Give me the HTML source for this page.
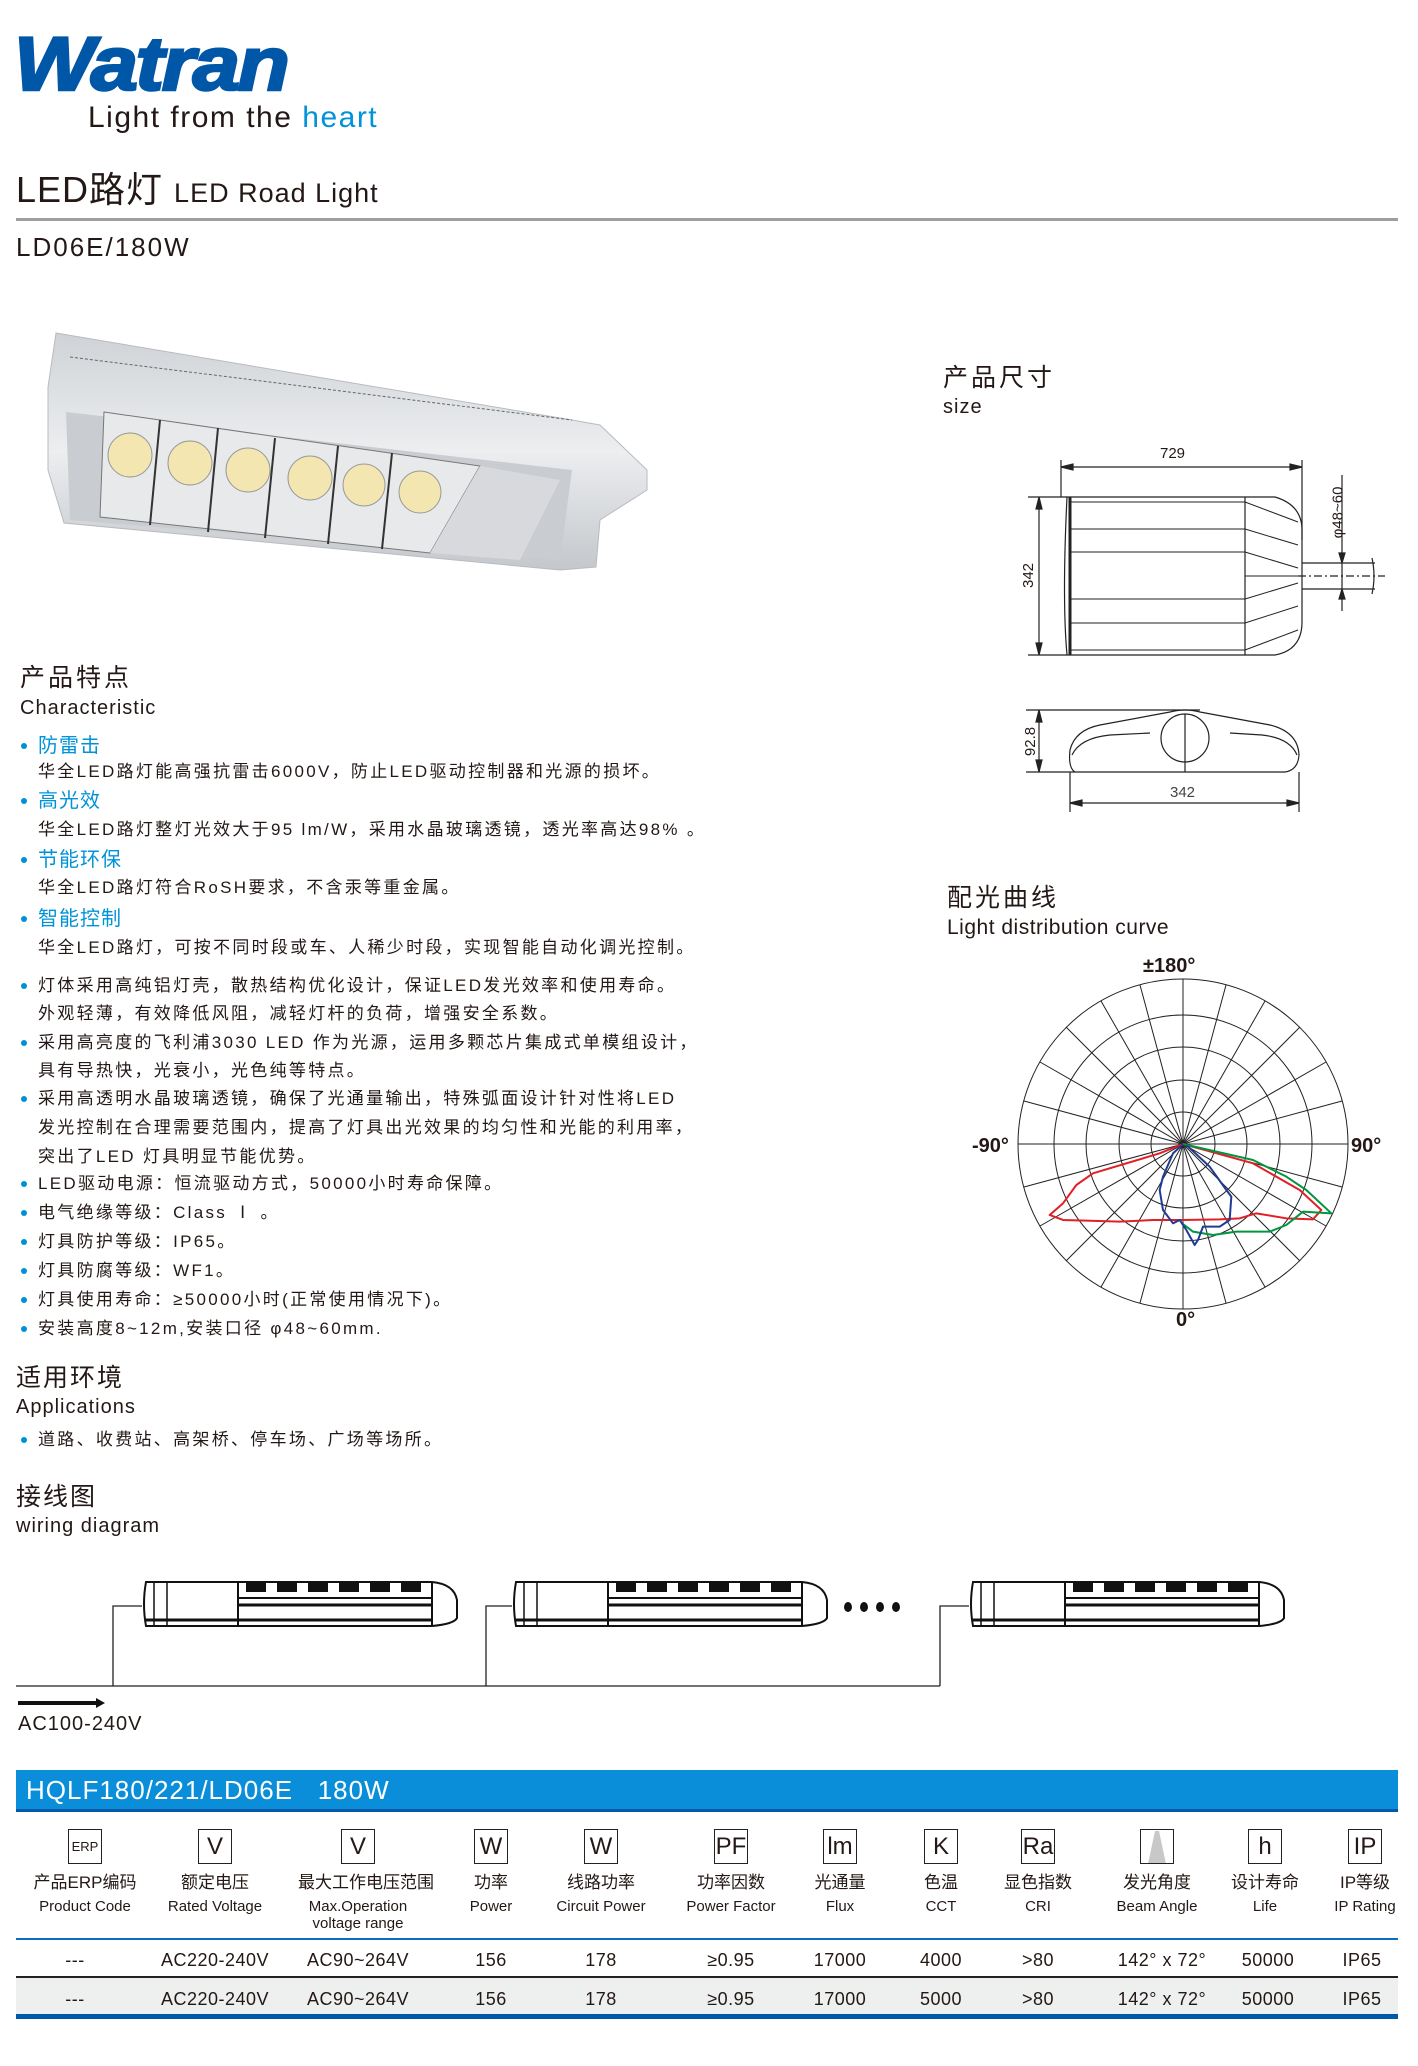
<!DOCTYPE html>
<html><head><meta charset="utf-8">
<style>
*{margin:0;padding:0;box-sizing:border-box}
body{width:1418px;height:2066px;background:#fff;position:relative;overflow:hidden;font-family:"Liberation Sans","Noto Sans CJK SC",sans-serif;color:#231815}
.a{position:absolute;white-space:nowrap;line-height:1}
.b{position:absolute;left:38px;font-size:17px;white-space:nowrap;line-height:1;letter-spacing:2.3px}
.d{position:absolute;left:21px;width:6px;height:6px;border-radius:3px;background:#0090d8}
.h{position:absolute;left:38px;font-size:20px;color:#0093d8;line-height:1;letter-spacing:1px}
.c{position:absolute;text-align:center;width:120px;margin-left:-60px;line-height:1;white-space:nowrap}
.ic{position:absolute;width:34px;height:35px;margin-left:-17px;border:1.5px solid #222;top:1829px;font-size:24px;text-align:center;line-height:33px;font-family:"Liberation Sans Narrow","Liberation Sans",sans-serif}
</style></head><body>

<div class="a" style="left:14px;top:27px;font-size:76px;font-weight:bold;font-style:italic;color:#0057a8;letter-spacing:-2px;-webkit-text-stroke:2.5px #0057a8;transform:scaleX(1.12);transform-origin:left">Watran</div>
<div class="a" style="left:88px;top:103px;font-size:30px;letter-spacing:1.5px">Light from the <span style="color:#0093d8">heart</span></div>

<div class="a" style="left:16px;top:172px;font-size:36px;letter-spacing:1px">LED路灯 <span style="font-size:27px;letter-spacing:1px">LED Road Light</span></div>
<div style="position:absolute;left:16px;top:218px;width:1382px;height:3px;background:#9e9e9e"></div>
<div class="a" style="left:16px;top:234px;font-size:26px;letter-spacing:2px">LD06E/180W</div>

<!-- lamp photo -->
<svg style="position:absolute;left:0;top:0" width="700" height="600">
<defs><linearGradient id="g1" x1="0" y1="0" x2="0" y2="1"><stop offset="0" stop-color="#cfd2d6"/><stop offset=".5" stop-color="#eceef0"/><stop offset="1" stop-color="#c4c7cb"/></linearGradient></defs>
<polygon points="56,333 572,420 600,425 647,470 647,490 600,520 596,567 560,570 64,523 48,470 48,387" fill="url(#g1)" stroke="#b8bbc0"/>
<polygon points="66,412 572,470 560,560 70,520" fill="#c9ccd0"/>
<polygon points="104,412 480,466 430,553 100,517" fill="#e8e9eb" stroke="#777"/>
<line x1="70" y1="357" x2="572" y2="420" stroke="#666" stroke-dasharray="3,2"/>
<g fill="#f3e6b0" stroke="#999">
<circle cx="130" cy="455" r="22"/><circle cx="190" cy="463" r="22"/><circle cx="248" cy="470" r="22"/><circle cx="310" cy="478" r="22"/><circle cx="364" cy="485" r="21"/><circle cx="420" cy="492" r="21"/></g>
<g stroke="#333" stroke-width="2"><line x1="160" y1="420" x2="150" y2="525"/><line x1="218" y1="428" x2="208" y2="532"/><line x1="275" y1="438" x2="265" y2="538"/><line x1="338" y1="446" x2="328" y2="544"/><line x1="392" y1="453" x2="382" y2="549"/></g>
<polygon points="480,466 560,480 520,560 430,553" fill="#d7d9dc"/>
</svg>

<!-- size -->
<div class="a" style="left:943px;top:366px;font-size:25px;letter-spacing:3px">产品尺寸</div>
<div class="a" style="left:943px;top:397px;font-size:20px;letter-spacing:1px">size</div>
<svg style="position:absolute;left:0;top:0" width="1418" height="830" fill="none" stroke="#222" stroke-width="1.2">
<line x1="1061" y1="467" x2="1302" y2="467"/><line x1="1061" y1="460" x2="1061" y2="497"/><line x1="1302" y1="460" x2="1302" y2="540"/>
<path d="M1061 467l12-3v6zM1302 467l-12-3v6z" fill="#222"/>
<line x1="1028" y1="497" x2="1067" y2="497"/><line x1="1028" y1="655" x2="1067" y2="655"/><line x1="1039" y1="497" x2="1039" y2="655"/>
<path d="M1039 497l-3 12h6zM1039 655l-3-12h6z" fill="#222"/>
<path d="M1067 497H1275Q1302 505 1302 530V622Q1302 650 1275 655H1067Q1062 600 1067 497Z"/>
<line x1="1070" y1="497" x2="1070" y2="655" stroke-width="3"/>
<line x1="1245" y1="497" x2="1245" y2="655"/>
<g stroke-width="1"><line x1="1070" y1="502" x2="1245" y2="502"/><line x1="1070" y1="529" x2="1245" y2="529"/><line x1="1070" y1="552" x2="1245" y2="552"/><line x1="1070" y1="599" x2="1245" y2="599"/><line x1="1070" y1="623" x2="1245" y2="623"/><line x1="1070" y1="650" x2="1245" y2="650"/>
<line x1="1245" y1="502" x2="1298" y2="522"/><line x1="1245" y1="529" x2="1298" y2="545"/><line x1="1245" y1="552" x2="1298" y2="568"/><line x1="1245" y1="576" x2="1298" y2="576"/><line x1="1245" y1="599" x2="1298" y2="583"/><line x1="1245" y1="623" x2="1298" y2="606"/><line x1="1245" y1="650" x2="1298" y2="630"/></g>
<path d="M1302 563H1375M1302 589H1375M1372 558q4 18 0 36"/>
<line x1="1298" y1="576" x2="1385" y2="576" stroke-dasharray="8,3,2,3"/>
<line x1="1342" y1="475" x2="1342" y2="611"/><path d="M1342 563l-3-10h6zM1342 589l-3 10h6z" fill="#222"/>
<line x1="1026" y1="710" x2="1200" y2="710"/><line x1="1026" y1="772" x2="1075" y2="772"/><line x1="1039" y1="710" x2="1039" y2="772"/>
<path d="M1039 710l-3 12h6zM1039 772l-3-12h6z" fill="#222"/>
<path d="M1075 772Q1068 768 1070 750Q1075 730 1100 725L1170 712Q1185 708 1200 712L1270 725Q1298 732 1299 755Q1298 770 1285 772Z"/>
<path d="M1072 755Q1080 738 1110 735L1150 733M1297 755Q1290 738 1262 735L1230 733"/>
<circle cx="1185" cy="738" r="24"/><line x1="1185" y1="714" x2="1185" y2="772"/>
<line x1="1070" y1="772" x2="1070" y2="812"/><line x1="1299" y1="772" x2="1299" y2="812"/><line x1="1070" y1="803" x2="1299" y2="803"/>
<path d="M1070 803l12-3v6zM1299 803l-12-3v6z" fill="#222"/>
</svg>
<div class="a" style="left:1160px;top:446px;font-size:15px">729</div>
<div class="a" style="left:1016px;top:568px;font-size:15px;transform:rotate(-90deg)">342</div>
<div class="a" style="left:1312px;top:505px;font-size:15px;transform:rotate(-90deg)">φ48~60</div>
<div class="a" style="left:1016px;top:734px;font-size:15px;transform:rotate(-90deg)">92.8</div>
<div class="a" style="left:1170px;top:785px;font-size:15px;color:#444">342</div>

<!-- light distribution -->
<div class="a" style="left:947px;top:886px;font-size:25px;letter-spacing:3px">配光曲线</div>
<div class="a" style="left:947px;top:917px;font-size:21px;letter-spacing:0.5px">Light distribution curve</div>
<svg style="position:absolute;left:0;top:0" width="1418" height="1340">
<g fill="none" stroke="#222" stroke-width="1">
<circle cx="1183" cy="1144" r="165"/><circle cx="1183" cy="1144" r="129"/><circle cx="1183" cy="1144" r="97"/><circle cx="1183" cy="1144" r="64"/><circle cx="1183" cy="1144" r="32"/>
<g transform="translate(1183,1144)">
<line x1="-165" y1="0" x2="165" y2="0"/><line y1="-165" x2="0" y2="165"/>
<line x1="-159" y1="-43" x2="159" y2="43"/><line x1="-143" y1="-82" x2="143" y2="82"/><line x1="-117" y1="-117" x2="117" y2="117"/><line x1="-82" y1="-143" x2="82" y2="143"/><line x1="-43" y1="-159" x2="43" y2="159"/>
<line x1="-159" y1="43" x2="159" y2="-43"/><line x1="-143" y1="82" x2="143" y2="-82"/><line x1="-117" y1="117" x2="117" y2="-117"/><line x1="-82" y1="143" x2="82" y2="-143"/><line x1="-43" y1="159" x2="43" y2="-159"/>
</g></g>
<g transform="translate(1183,1144) scale(0.3333) translate(-790,-822)" fill="none" stroke-width="6" stroke-linejoin="round">
<polyline stroke="#e21f26" points="790,822 720,850 520,910 470,945 430,1000 390,1035 430,1050 500,1052 600,1055 700,1050 790,1050 900,1048 960,1045 1010,1030 1100,1045 1180,1048 1205,1020 1140,960 1000,880 790,822"/>
<polyline stroke="#00963f" points="790,822 1000,870 1100,920 1160,960 1235,1030 1150,1025 1100,1065 1050,1085 950,1085 880,1095 820,1085 790,1062"/>
<polyline stroke="#1f3c95" points="790,822 760,850 730,920 720,960 730,1020 760,1060 780,1050 800,1080 825,1125 835,1110 850,1070 900,1070 930,1050 935,980 920,960 870,890 800,825"/>
</g>
</svg>
<div class="a" style="left:1143px;top:956px;font-size:20px;font-weight:bold">±180°</div>
<div class="a" style="left:972px;top:1136px;font-size:20px;font-weight:bold">-90°</div>
<div class="a" style="left:1351px;top:1136px;font-size:20px;font-weight:bold">90°</div>
<div class="a" style="left:1176px;top:1310px;font-size:20px;font-weight:bold">0°</div>

<!-- characteristics -->
<div class="a" style="left:20px;top:666px;font-size:25px;letter-spacing:3px">产品特点</div>
<div class="a" style="left:20px;top:698px;font-size:20px;letter-spacing:1px">Characteristic</div>
<div class="d" style="top:743px"></div><div class="h" style="top:736px">防雷击</div>
<div class="b" style="top:763px">华全LED路灯能高强抗雷击6000V，防止LED驱动控制器和光源的损坏。</div>
<div class="d" style="top:798px"></div><div class="h" style="top:791px">高光效</div>
<div class="b" style="top:821px">华全LED路灯整灯光效大于95 lm/W，采用水晶玻璃透镜，透光率高达98% 。</div>
<div class="d" style="top:857px"></div><div class="h" style="top:850px">节能环保</div>
<div class="b" style="top:879px">华全LED路灯符合RoSH要求，不含汞等重金属。</div>
<div class="d" style="top:916px"></div><div class="h" style="top:909px">智能控制</div>
<div class="b" style="top:939px">华全LED路灯，可按不同时段或车、人稀少时段，实现智能自动化调光控制。</div>
<div class="d" style="top:983px"></div><div class="b" style="top:977px">灯体采用高纯铝灯壳，散热结构优化设计，保证LED发光效率和使用寿命。</div>
<div class="b" style="top:1005px">外观轻薄，有效降低风阻，减轻灯杆的负荷，增强安全系数。</div>
<div class="d" style="top:1040px"></div><div class="b" style="top:1034px">采用高亮度的飞利浦3030 LED 作为光源，运用多颗芯片集成式单模组设计，</div>
<div class="b" style="top:1062px">具有导热快，光衰小，光色纯等特点。</div>
<div class="d" style="top:1096px"></div><div class="b" style="top:1090px">采用高透明水晶玻璃透镜，确保了光通量输出，特殊弧面设计针对性将LED</div>
<div class="b" style="top:1119px">发光控制在合理需要范围内，提高了灯具出光效果的均匀性和光能的利用率，</div>
<div class="b" style="top:1148px">突出了LED 灯具明显节能优势。</div>
<div class="d" style="top:1181px"></div><div class="b" style="top:1175px">LED驱动电源：恒流驱动方式，50000小时寿命保障。</div>
<div class="d" style="top:1210px"></div><div class="b" style="top:1204px">电气绝缘等级：Class Ⅰ 。</div>
<div class="d" style="top:1239px"></div><div class="b" style="top:1233px">灯具防护等级：IP65。</div>
<div class="d" style="top:1268px"></div><div class="b" style="top:1262px">灯具防腐等级：WF1。</div>
<div class="d" style="top:1297px"></div><div class="b" style="top:1291px">灯具使用寿命：≥50000小时(正常使用情况下)。</div>
<div class="d" style="top:1326px"></div><div class="b" style="top:1320px">安装高度8~12m,安装口径 φ48~60mm.</div>

<div class="a" style="left:16px;top:1366px;font-size:25px;letter-spacing:2px">适用环境</div>
<div class="a" style="left:16px;top:1397px;font-size:20px;letter-spacing:1px">Applications</div>
<div class="d" style="top:1437px"></div><div class="b" style="top:1431px">道路、收费站、高架桥、停车场、广场等场所。</div>

<div class="a" style="left:16px;top:1485px;font-size:25px;letter-spacing:2px">接线图</div>
<div class="a" style="left:16px;top:1516px;font-size:20px;letter-spacing:1px">wiring diagram</div>

<!-- wiring -->
<svg style="position:absolute;left:0;top:0" width="1418" height="1740">
<defs><g id="lp" fill="none" stroke="#111" stroke-width="2">
<path d="M4 2H290Q312 4 315 20V38Q312 44 290 46H4Q0 24 4 2Z"/>
<line x1="12" y1="2" x2="12" y2="46" stroke-width="1.5"/><line x1="25" y1="2" x2="25" y2="46" stroke-width="1.5"/>
<line x1="96" y1="2" x2="96" y2="46"/><line x1="290" y1="2" x2="290" y2="46"/>
<line x1="96" y1="18" x2="290" y2="18"/><line x1="96" y1="25" x2="290" y2="25" stroke-width="3"/><line x1="4" y1="40" x2="290" y2="40" stroke-width="3"/>
<g fill="#111" stroke="none"><rect x="104" y="3" width="20" height="9"/><rect x="135" y="3" width="20" height="9"/><rect x="166" y="3" width="20" height="9"/><rect x="197" y="3" width="20" height="9"/><rect x="228" y="3" width="20" height="9"/><rect x="259" y="3" width="20" height="9"/></g>
</g></defs>
<use href="#lp" x="142" y="1580"/><use href="#lp" x="512" y="1580"/><use href="#lp" x="969" y="1580"/>
<g stroke="#222" stroke-width="1.3" fill="none">
<polyline points="16,1686 940,1686"/>
<polyline points="113,1686 113,1606 142,1606"/><polyline points="486,1686 486,1606 512,1606"/><polyline points="940,1686 940,1606 969,1606"/>
</g>
<g fill="#111"><ellipse cx="848" cy="1607" rx="4" ry="5"/><ellipse cx="864" cy="1607" rx="4" ry="5"/><ellipse cx="880" cy="1607" rx="4" ry="5"/><ellipse cx="896" cy="1607" rx="4" ry="5"/></g>
<path d="M18 1701H96V1698L105 1703L96 1708V1705H18Z" fill="#111"/>
</svg>
<div class="a" style="left:18px;top:1714px;font-size:20px;letter-spacing:1px">AC100-240V</div>

<!-- table -->
<div style="position:absolute;left:16px;top:1770px;width:1382px;height:40px;background:#0a8ed9"></div>
<div style="position:absolute;left:16px;top:1809px;width:1382px;height:3px;background:#0058a8"></div>
<div class="a" style="left:26px;top:1777px;font-size:26px;color:#fff;letter-spacing:1px">HQLF180/221/LD06E&nbsp;&nbsp;&nbsp;180W</div>

<div class="ic" style="left:85px;font-size:13px">ERP</div>
<div class="ic" style="left:215px">V</div>
<div class="ic" style="left:358px">V</div>
<div class="ic" style="left:491px">W</div>
<div class="ic" style="left:601px">W</div>
<div class="ic" style="left:731px">PF</div>
<div class="ic" style="left:840px">lm</div>
<div class="ic" style="left:941px">K</div>
<div class="ic" style="left:1038px">Ra</div>
<div class="ic" style="left:1157px"><svg width="30" height="32" style="position:absolute;left:1px;top:1px"><polygon points="13,0 17,0 24,33 6,33" fill="#c8c8c8"/></svg></div>
<div class="ic" style="left:1265px">h</div>
<div class="ic" style="left:1365px">IP</div>

<div style="font-size:17px">
<div class="c" style="left:85px;top:1874px">产品ERP编码</div>
<div class="c" style="left:215px;top:1874px">额定电压</div>
<div class="c" style="left:358px;top:1874px">最大工作电压范围</div>
<div class="c" style="left:491px;top:1874px">功率</div>
<div class="c" style="left:601px;top:1874px">线路功率</div>
<div class="c" style="left:731px;top:1874px">功率因数</div>
<div class="c" style="left:840px;top:1874px">光通量</div>
<div class="c" style="left:941px;top:1874px">色温</div>
<div class="c" style="left:1038px;top:1874px">显色指数</div>
<div class="c" style="left:1157px;top:1874px">发光角度</div>
<div class="c" style="left:1265px;top:1874px">设计寿命</div>
<div class="c" style="left:1365px;top:1874px">IP等级</div>
</div>
<div style="font-size:15px">
<div class="c" style="left:85px;top:1899px">Product Code</div>
<div class="c" style="left:215px;top:1899px">Rated Voltage</div>
<div class="c" style="left:358px;top:1899px">Max.Operation</div>
<div class="c" style="left:358px;top:1916px">voltage range</div>
<div class="c" style="left:491px;top:1899px">Power</div>
<div class="c" style="left:601px;top:1899px">Circuit Power</div>
<div class="c" style="left:731px;top:1899px">Power Factor</div>
<div class="c" style="left:840px;top:1899px">Flux</div>
<div class="c" style="left:941px;top:1899px">CCT</div>
<div class="c" style="left:1038px;top:1899px">CRI</div>
<div class="c" style="left:1157px;top:1899px">Beam Angle</div>
<div class="c" style="left:1265px;top:1899px">Life</div>
<div class="c" style="left:1365px;top:1899px">IP Rating</div>
</div>
<div style="position:absolute;left:16px;top:1938px;width:1382px;height:2px;background:#0a6fc2"></div>
<div style="position:absolute;left:16px;top:1976px;width:1382px;height:2px;background:#222"></div>
<div style="position:absolute;left:16px;top:1978px;width:1382px;height:36px;background:#eef0ef"></div>
<div style="position:absolute;left:16px;top:2014px;width:1382px;height:5px;background:#0058a8"></div>
<div style="font-size:18px;letter-spacing:0.5px">
<div class="c" style="left:75px;top:1951px">---</div><div class="c" style="left:215px;top:1951px">AC220-240V</div><div class="c" style="left:358px;top:1951px">AC90~264V</div><div class="c" style="left:491px;top:1951px">156</div><div class="c" style="left:601px;top:1951px">178</div><div class="c" style="left:731px;top:1951px">≥0.95</div><div class="c" style="left:840px;top:1951px">17000</div><div class="c" style="left:941px;top:1951px">4000</div><div class="c" style="left:1038px;top:1951px">&gt;80</div><div class="c" style="left:1162px;top:1951px">142° x 72°</div><div class="c" style="left:1268px;top:1951px">50000</div><div class="c" style="left:1362px;top:1951px">IP65</div>
<div class="c" style="left:75px;top:1990px">---</div><div class="c" style="left:215px;top:1990px">AC220-240V</div><div class="c" style="left:358px;top:1990px">AC90~264V</div><div class="c" style="left:491px;top:1990px">156</div><div class="c" style="left:601px;top:1990px">178</div><div class="c" style="left:731px;top:1990px">≥0.95</div><div class="c" style="left:840px;top:1990px">17000</div><div class="c" style="left:941px;top:1990px">5000</div><div class="c" style="left:1038px;top:1990px">&gt;80</div><div class="c" style="left:1162px;top:1990px">142° x 72°</div><div class="c" style="left:1268px;top:1990px">50000</div><div class="c" style="left:1362px;top:1990px">IP65</div>
</div>
</body></html>
